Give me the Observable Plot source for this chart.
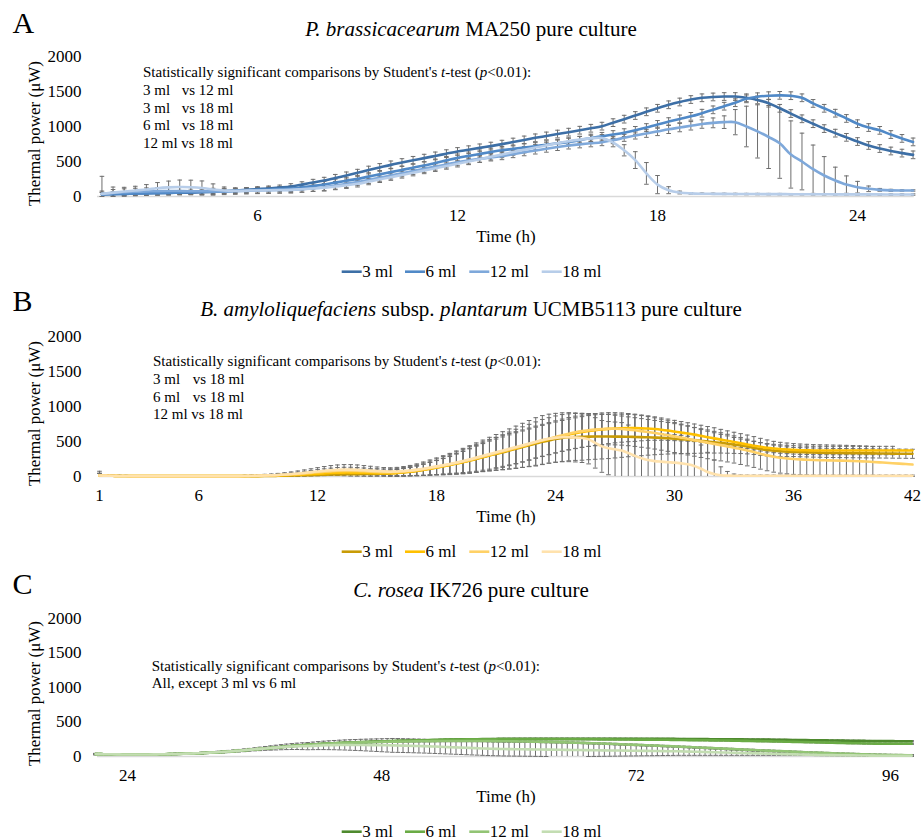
<!DOCTYPE html>
<html><head><meta charset="utf-8">
<script src="https://cdn.jsdelivr.net/npm/d3@7"></script>
<script src="https://cdn.jsdelivr.net/npm/@observablehq/plot@0.6"></script>
<style>
body{margin:0;background:#fff;}
#root{position:relative;width:922px;height:840px;overflow:hidden;background:#fff}
.pl{position:absolute;left:0}
</style></head>
<body><div id="root"></div>
<script>
const FONT = '"Liberation Serif","Times New Roman",serif';
const seriesNames = ["3 ml","6 ml","12 ml","18 ml"];

// ---------- Panel A: P. brassicacearum (t = 4/3 h, step 1/3 h) ----------
const tA0 = 4/3, dtA = 1/3;
const ticksA = [6,12,18,24];
const colorsA = ["#3d6fa6","#5089c7","#7ea8da","#b7cde9"];
const A3 = [30,33,38,42,46,50,52,54,56,60, 66,75,84,94,105,115,128,143,170,200, 229,265,300,338,378,415,452,485,517,548, 580,612,643,668,695,720,748,778,808,838, 865,892,919,947,975,1005,1055,1105,1157,1210, 1260,1310,1350,1385,1410,1422,1428,1428,1410,1380, 1333,1260,1185,1110,1040,970,905,845,785,729, 685,650,620,595];
const A6 = [30,35,38,42,45,48,52,57,62,66, 71,76,82,88,95,100,105,112,130,150, 171,198,225,252,284,316,348,380,412,443, 480,516,552,580,608,635,660,680,700,718, 740,760,780,805,835,860,885,912,945,985, 1030,1070,1108,1145,1190,1238,1290,1340,1395,1425, 1440,1445,1440,1410,1330,1260,1190,1115,1040,985, 945,885,830,780];
const A12 = [38,50,60,68,73,76,78,78,76,74, 72,72,76,81,86,89,92,95,105,118, 133,155,180,205,237,268,300,332,363,395, 427,458,490,515,538,558,576,605,632,657, 683,707,729,745,760,776,805,838,871,900, 930,960,985,1010,1035,1052,1062,1062,1000,930, 850,760,600,500,390,300,229,170,133,110, 95,88,86,86];
const A18 = [38,55,71,86,100,119,130,135,133,122, 100,86,82,84,86,89,92,95,104,114, 124,142,160,181,213,245,276,308,340,371, 403,435,467,500,533,567,600,635,668,700, 730,760,790,812,830,835,770,660,520,330, 170,90,57,45,40,38,37,36,35,35, 34,34,33,33,32,32,31,31,30,30, 30,29,29,28];
const eA3 = [30,30,30,30,30,30,30,30,30,30, 30,30,30,30,35,35,35,40,40,45, 45,50,50,50,55,55,55,55,55,55, 55,55,55,55,55,55,55,55,55,55, 55,55,55,55,55,55,55,55,55,55, 55,55,55,55,55,55,55,55,55,55, 55,55,55,55,55,55,55,55,55,55, 55,55,55,55];
const eA6 = [30,30,30,30,30,30,30,30,30,30, 30,30,30,30,30,35,35,40,40,45, 45,50,50,50,55,55,55,55,55,55, 55,55,55,55,55,55,55,55,55,55, 55,55,55,55,55,55,55,55,55,55, 55,55,55,55,55,55,55,55,55,55, 55,55,55,55,55,55,55,55,55,55, 55,55,55,55];
const eA12 = [40,50,50,50,50,50,50,50,50,50, 45,45,45,45,45,45,45,45,45,45, 50,50,50,50,50,50,50,50,50,50, 50,50,50,50,50,50,50,50,50,50, 50,50,50,50,50,50,50,50,50,55, 60,60,60,60,60,70,90,180,290,380, 450,500,480,405,345,270,190,124,83,40, 20,15,10,10];
const eA18 = [250,80,60,60,70,80,90,100,100,100, 80,50,40,40,40,40,40,40,40,40, 45,45,45,45,45,45,45,45,45,45, 45,45,45,45,45,45,45,45,45,45, 45,45,45,45,45,50,60,80,120,155, 130,50,20,10,10,10,10,10,10,10, 10,10,10,10,10,10,10,10,10,10, 10,10,10,10];

// ---------- Panel B: B. amyloliquefaciens (t = 1 h, step 1/3 h) ----------
const tB0 = 1, dtB = 1/3;
const ticksB = [1,6,12,18,24,30,36,42];
const colorsB = ["#c89b06","#ffc000","#ffd166","#ffe2ad"];
const B3 = [15,12,10, 8,7,6, 6,5,5, 5,5,5, 5,5,5, 5,5,5, 5,5,5, 5,5,6, 6,7,8, 10,12,14, 16,18,20, 22,25,28, 30,32,33, 34,35,36, 38,40,44, 50,58,68, 80,95,110, 128,146,165, 185,205,228, 250,275,300, 322,345,370, 395,420,445, 470,495,515, 535,550,560, 565,568,570, 571,571,571, 570,569,567, 565,562,560, 556,552,546, 540,533,525, 516,508,500, 490,480,468, 455,443,428, 410,392,378, 368,360,354, 350,347,345, 342,340,338, 336,335,334, 333,332,331, 330,329,328, 327,326,325, 324];
const B6 = [15,12,10, 8,7,6, 6,5,5, 5,5,5, 5,5,5, 5,5,5, 5,5,5, 5,6,7, 8,10,12, 15,18,22, 26,30,35, 40,45,50, 54,56,56, 55,53,50, 48,47,48, 52,60,70, 82,96,112, 128,146,165, 185,207,230, 255,280,305, 330,355,380, 405,430,458, 485,510,535, 558,580,600, 618,635,650, 662,672,680, 686,690,692, 692,690,686, 678,668,656, 642,628,614, 598,580,562, 545,527,510, 492,475,458, 440,424,410, 400,392,386, 380,376,374, 372,372,371, 371,371,371, 371,371,371, 371,371,371, 371,371,371, 371];
const B12 = [15,12,10, 8,7,6, 6,5,5, 5,5,5, 5,5,5, 5,5,5, 5,5,5, 6,7,8, 10,12,15, 19,24,30, 36,44,52, 60,67,73, 78,80,80, 78,74,70, 66,63,62, 64,70,78, 90,104,120, 136,154,172, 192,213,236, 260,285,310, 335,360,385, 410,435,462, 490,515,540, 565,590,612, 632,648,660, 670,678,682, 682,678,670, 660,648,636, 622,606,590, 572,555,538, 520,502,484, 466,448,430, 412,392,372, 350,325,302, 282,268,258, 250,244,240, 236,233,231, 229,227,225, 222,218,214, 208,202,196, 190,184,178, 171];
const B18 = [15,12,10, 8,7,6, 6,5,5, 5,5,5, 5,5,5, 5,5,5, 5,5,5, 6,8,10, 12,15,18, 22,28,35, 43,52,62, 72,82,90, 95,98,98, 95,90,84, 78,73,70, 72,78,86, 98,112,128, 145,162,180, 200,222,245, 270,295,320, 345,370,395, 420,445,470, 495,520,540, 552,560,562, 558,550,530, 480,430,405, 388,370,335, 295,262,235, 220,212,204, 198,188,175, 150,110,65, 35,18,12, 10,10,10, 10,10,10, 10,10,10, 10,10,10, 10,10,10, 10,10,10, 10,10,10, 10,10,10, 10,10,10, 10];
const eB3 = [30,10,10, 8,8,8, 8,8,8, 8,8,8, 8,8,8, 8,8,8, 8,8,8, 8,8,10, 10,12,14, 16,18,20, 22,25,28, 30,33,36, 40,45,50, 50,50,48, 45,45,48, 50,55,60, 70,80,90, 100,115,130, 145,160,175, 190,205,220, 235,250,265, 280,290,300, 310,320,325, 330,335,335, 335,335,330, 325,320,315, 305,295,285, 275,265,255, 245,235,225, 215,205,195, 185,175,165, 155,145,135, 125,115,105, 95,90,85, 80,75,70, 65,65,65, 65,65,65, 65,65,65, 65,65,65, 65,65,65, 65,65,65, 65];
const eB6 = [30,10,10, 8,8,8, 8,8,8, 8,8,8, 8,8,8, 8,8,8, 8,8,8, 8,8,10, 10,12,14, 16,18,20, 22,25,28, 30,33,36, 40,45,50, 50,50,48, 45,45,48, 50,55,60, 70,80,90, 100,110,120, 135,150,165, 180,190,200, 205,210,215, 220,220,220, 220,220,220, 220,220,220, 220,220,220, 220,215,210, 205,200,195, 190,180,170, 160,150,140, 130,120,110, 100,90,85, 80,75,70, 65,60,60, 60,60,60, 60,60,60, 60,60,60, 60,60,60, 60,60,60, 60,60,60, 60,60,60, 60];
const eB12 = [30,10,10, 8,8,8, 8,8,8, 8,8,8, 8,8,8, 8,8,8, 8,8,8, 8,8,10, 10,12,14, 16,18,22, 26,30,34, 38,42,46, 50,52,52, 50,48,46, 45,45,48, 52,58,66, 76,88,100, 115,130,145, 160,175,190, 200,210,220, 225,230,230, 230,230,230, 230,230,230, 230,230,230, 230,230,230, 230,230,230, 230,230,230, 230,230,230, 230,230,230, 230,230,230, 230,230,230, 230,225,222, 220,220,220, 220,220,220, 220,220,220, 220,220,220, 220,220,220, 220,220,220, 220,220,220, 220];
const eB18 = [60,10,10, 8,8,8, 8,8,8, 8,8,8, 8,8,8, 8,8,8, 8,8,8, 8,10,12, 14,16,18, 22,26,30, 36,42,48, 54,60,66, 70,72,72, 70,66,62, 58,55,55, 58,64,72, 82,95,108, 120,135,150, 165,180,195, 210,225,240, 255,270,285, 300,315,330, 345,350,350, 350,350,350, 350,350,350, 360,370,380, 390,400,400, 400,400,400, 400,400,400, 400,400,400, 380,340,280, 200,120,60, 25,12,10, 10,10,10, 10,10,10, 10,10,10, 10,10,10, 10,10,10, 10,10,10, 10,10,10, 10,10,10, 10,10,10, 10];

// ---------- Panel C: C. rosea (t = 21 h, step 0.5 h) ----------
const tC0 = 21, dtC = 0.5;
const ticksC = [24,48,72,96];
const colorsC = ["#4e8a2e","#6aab45","#92c474","#c3ddb2"];
const C3 = [35,34,33,32,31,30,30,30,30,30, 30,31,32,33,34,36,38,40,42,45, 48,52,56,60,65,70,76,82,88,95, 102,108,115,122,129,136,143,150,156,162, 168,173,178,182,186,190,194,197,200,203, 206,209,212,215,217,220,222,224,226,228, 230,232,234,236,238,240,242,244,246,248, 249,250,251,252,253,254,255,256,256,257, 257,257,258,258,258,258,258,258,258,258, 258,258,258,258,258,258,258,258,258,257, 257,257,257,256,256,256,256,255,255,255, 254,254,253,253,252,252,251,251,250,250, 249,248,248,247,246,245,245,244,243,242, 241,240,239,238,237,236,235,234,233,232, 231,230,229,228,227,226,225,224,224,223, 223,222,222,222,222];
const C6 = [35,34,33,32,31,30,30,30,30,30, 30,31,32,33,35,37,39,41,44,47, 50,54,58,62,67,72,78,84,90,97, 104,110,117,124,131,138,145,152,158,164, 170,175,180,184,188,192,196,199,202,205, 208,211,214,217,219,222,224,226,228,230, 232,234,236,238,240,242,244,245,246,247, 248,248,249,249,250,250,250,250,250,250, 250,250,250,250,250,250,250,250,250,250, 250,250,249,249,249,248,248,248,247,247, 246,246,245,245,244,244,243,242,242,241, 240,239,238,237,236,235,234,233,232,231, 230,228,227,226,224,223,221,220,218,217, 215,213,212,210,208,206,205,203,201,199, 197,196,194,192,191,189,188,187,186,185, 185,184,184,184,184];
const C12 = [35,34,33,32,31,30,30,30,30,30, 30,31,32,33,35,37,39,41,44,47, 50,54,58,62,67,72,78,84,90,97, 104,110,117,124,131,138,145,152,158,164, 170,175,180,184,188,191,194,197,200,202, 204,206,208,210,212,214,215,216,217,218, 219,220,221,222,223,224,224,225,225,225, 225,225,225,224,224,223,222,221,220,219, 218,217,215,214,212,211,209,207,205,203, 201,199,197,194,192,189,187,184,181,178, 175,172,169,166,163,160,157,153,150,147, 143,140,137,133,130,126,123,119,116,112, 109,105,102,98,95,91,88,85,81,78, 75,72,68,65,62,59,56,53,50,47, 44,42,39,37,34,32,30,28,26,24, 22,21,20,19,19];
const C18 = [35,34,33,32,31,30,30,30,30,30, 30,31,32,33,35,37,39,41,44,47, 50,54,58,62,67,72,78,84,90,97, 104,110,117,123,129,135,140,144,147,149, 150,154,158,161,163,165,166,167,167,167, 167,166,165,164,163,162,161,160,158,156, 154,152,150,147,144,141,138,135,132,129, 126,123,120,117,114,112,110,108,107,106, 105,104,103,102,101,100,99,98,97,96, 95,94,93,92,91,90,89,88,87,86, 85,84,83,82,81,80,79,78,77,76, 75,73,71,69,67,65,63,61,59,57, 55,53,51,49,47,45,43,41,39,37, 35,33,31,29,27,25,23,22,21,20, 19,18,17,16,15,14,13,12,11,11, 10,10,10,10,10];
const eC3 = 8, eC6 = 8, eC12 = 10;
const eC18 = [10,10,10,10,10,10,10,10,10,10, 10,10,10,10,10,10,10,10,10,10, 12,12,14,14,16,16,18,18,20,20, 22,25,28,31,34,37,40,43,46,49, 52,55,58,61,64,67,70,73,76,79, 82,85,88,91,94,97,100,100,100,100, 100,100,100,100,100,100,100,100,100,100, 100,100,100,100,100,100,100,100,100,100, 100,100,100,100,100,100,100,100,100,100, 98,96,94,92,90,88,86,84,82,80, 78,76,74,72,70,68,66,64,62,60, 58,56,54,52,50,48,46,44,42,40, 38,36,34,32,30,28,26,24,22,20, 18,16,14,12,10,10,10,10,10,10, 10,10,10,10,10,10,10,10,10,10, 10,10,10,10,10];

// ---------- drawing ----------
const root = document.getElementById("root");
const cap = {draw(ctx, size){ const w = Math.sqrt(size/Math.PI); ctx.moveTo(-w,0); ctx.lineTo(w,0); }};

function buildRows(t0, dt, vals, err){
  return vals.map((v,i)=>{
    const e = Array.isArray(err) ? err[i] : err;
    return {t: t0 + i*dt, v, lo: Math.max(0, v - e), hi: v + e, clipped: v - e < 0};
  });
}

function panel(cfg){
  const sets = cfg.series.map(s => buildRows(cfg.t0, cfg.dt, s.v, s.e));
  const marks = [Plot.ruleY([0], {stroke:"#d9d9d9", strokeWidth:1.3})];
  sets.forEach(rows=>{
    marks.push(Plot.ruleX(rows, {x:"t", y1:"lo", y2:"hi", stroke:"#6e6e6e", strokeWidth:1}));
    marks.push(Plot.dot(rows, {x:"t", y:"hi", symbol:cap, r:2.3, stroke:"#6e6e6e", strokeWidth:1, fill:"none"}));
    marks.push(Plot.dot(rows.filter(d=>!d.clipped), {x:"t", y:"lo", symbol:cap, r:2.3, stroke:"#6e6e6e", strokeWidth:1, fill:"none"}));
  });
  sets.forEach((rows,i)=>{
    marks.push(Plot.line(rows, {x:"t", y:"v", stroke:cfg.colors[i], strokeWidth:2.6, curve:"catmull-rom"}));
  });
  const svg = Plot.plot({
    width:922, height:222,
    marginTop:cfg.mt, marginBottom:26, marginLeft:cfg.ml, marginRight:cfg.mr,
    x:{domain:cfg.domain, ticks:cfg.ticks, tickSize:0, tickPadding:12, label:null, tickFormat:d=>String(d)},
    y:{domain:[0,2000], ticks:[0,500,1000,1500,2000], tickSize:0, tickPadding:cfg.ml-81, label:null, tickFormat:d=>String(d)},
    style:{fontFamily:FONT, fontSize:"17px", color:"#000", background:"transparent", overflow:"visible"},
    marks
  });
  svg.classList.add("pl");
  svg.style.top = cfg.top + "px";
  root.appendChild(svg);
}

panel({top:0, mt:56, ml:97, mr:8.3, domain:[1.2,25.7], ticks:ticksA, t0:tA0, dt:dtA, colors:colorsA,
  series:[{v:A3,e:eA3},{v:A6,e:eA6},{v:A12,e:eA12},{v:A18,e:eA18}]});
panel({top:280, mt:56, ml:99, mr:10, domain:[1,42], ticks:ticksB, t0:tB0, dt:dtB, colors:colorsB,
  series:[{v:B3,e:eB3},{v:B6,e:eB6},{v:B12,e:eB12},{v:B18,e:eB18}]});
panel({top:560, mt:58, ml:97, mr:9, domain:[21.17,98.17], ticks:ticksC, t0:tC0, dt:dtC, colors:colorsC,
  series:[{v:C3,e:eC3},{v:C6,e:eC6},{v:C12,e:eC12},{v:C18,e:eC18}]});

// ---------- text overlay ----------
const ov = d3.select(root).append("svg").attr("width",922).attr("height",840)
  .style("position","absolute").style("left",0).style("top",0)
  .attr("font-family",FONT).style("white-space","pre");
function txt(x,y,parts,size,anchor){
  const t = ov.append("text").attr("x",x).attr("y",y).attr("font-size",size).attr("text-anchor",anchor||"start").attr("fill","#000");
  parts.forEach(p=>{ const s=t.append("tspan").text(typeof p==="string"?p:p.t); if(p.i) s.attr("font-style","italic"); });
  return t;
}
const statLine = ["Statistically significant comparisons by Student's ",{t:"t",i:1},"-test (",{t:"p",i:1},"<0.01):"];
const panels = [
  {dy:0, letter:"A", lb:33.3, title:[{t:"P. brassicacearum",i:1}," MA250 pure culture"], tb:36,
   ax:143, vx:181.7, ab:[77.3,95,112.7,130.3,148.3],
   lines:[["3 ml","vs 12 ml"],["3 ml","vs 18 ml"],["6 ml","vs 18 ml"],["12 ml vs 18 ml"]], colors:colorsA},
  {dy:280, letter:"B", lb:310.5, title:[{t:"B. amyloliquefaciens",i:1}," subsp. ",{t:"plantarum",i:1}," UCMB5113 pure culture"], tb:316,
   ax:153, vx:192.7, ab:[366,384,401.7,419.3],
   lines:[["3 ml","vs 18 ml"],["6 ml","vs 18 ml"],["12 ml vs 18 ml"]], colors:colorsB},
  {dy:560, letter:"C", lb:593.5, title:[{t:"C. rosea",i:1}," IK726 pure culture"], tb:596.5,
   ax:151.7, vx:0, ab:[670.7,688.3],
   lines:[["All, except 3 ml vs 6 ml"]], colors:colorsC}
];
panels.forEach(p=>{
  txt(12.5, p.lb, [p.letter], 30);
  txt(471, p.tb, p.title, 21, "middle");
  txt(p.ax, p.ab[0], statLine, 15);
  p.lines.forEach((l,i)=>{
    txt(p.ax, p.ab[i+1], [l[0]], 15);
    if (l[1]) txt(p.vx, p.ab[i+1], [l[1]], 15);
  });
  ov.append("text").attr("transform",`translate(40,${133.5+p.dy}) rotate(-90)`).attr("text-anchor","middle")
    .attr("font-size",17).text("Thermal power (\u03bcW)");
  txt(506, 242+p.dy, ["Time (h)"], 17, "middle");
  const lx = [341.7,405,469.3,541.7];
  seriesNames.forEach((n,i)=>{
    ov.append("line").attr("x1",lx[i]).attr("x2",lx[i]+20).attr("y1",271.7+p.dy).attr("y2",271.7+p.dy)
      .attr("stroke",p.colors[i]).attr("stroke-width",2.6);
    txt(lx[i]+20.5, 276.7+p.dy, [n], 17);
  });
});
</script></body></html>
